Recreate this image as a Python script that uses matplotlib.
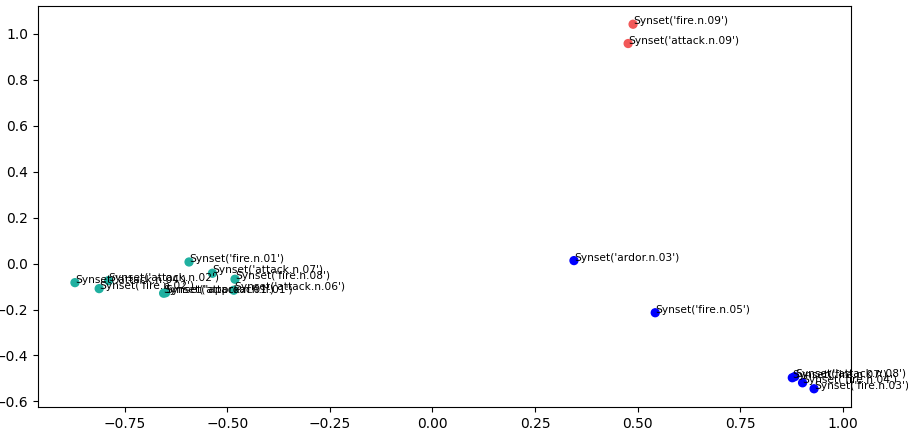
import matplotlib
matplotlib.use("Agg")
import matplotlib.pyplot as plt

labels = [
    "Synset('fire.n.09')", "Synset('attack.n.09')",
    "Synset('ardor.n.03')", "Synset('fire.n.05')",
    "Synset('fire.n.07')", "Synset('attack.n.08')",
    "Synset('fire.n.04')", "Synset('fire.n.03')",
    "Synset('attack.n.04')", "Synset('attack.n.02')",
    "Synset('fire.n.02')", "Synset('attack.n.01')",
    "Synset('approach.n.01')", "Synset('fire.n.01')",
    "Synset('attack.n.07')", "Synset('fire.n.08')",
    "Synset('attack.n.06')",
]
xs = [0.489, 0.477, 0.345, 0.543, 0.877, 0.883, 0.902, 0.930,
      -0.871, -0.789, -0.812, -0.655, -0.650, -0.593, -0.536, -0.481, -0.484]
ys = [1.042, 0.958, 0.013, -0.214, -0.497, -0.492, -0.519, -0.545,
      -0.083, -0.074, -0.109, -0.129, -0.127, 0.007, -0.042, -0.068, -0.116]
clusters = [0, 0, 1, 1, 1, 1, 1, 1, 2, 2, 2, 2, 2, 2, 2, 2, 2]
cluster_colors = ["#f25858", "#0000ff", "#1fb0a0"]

fig = plt.figure(figsize=(9.08, 4.28), dpi=100)
ax = fig.add_axes([38/908, 1-407/428, (851-38)/908, (407-6)/428])
ax.scatter(xs, ys, c=[cluster_colors[k] for k in clusters], s=32)
for x, y, lab in zip(xs, ys, labels):
    ax.text(x, y, lab, fontsize=7.7)

fig.savefig("out.png", dpi=100)
